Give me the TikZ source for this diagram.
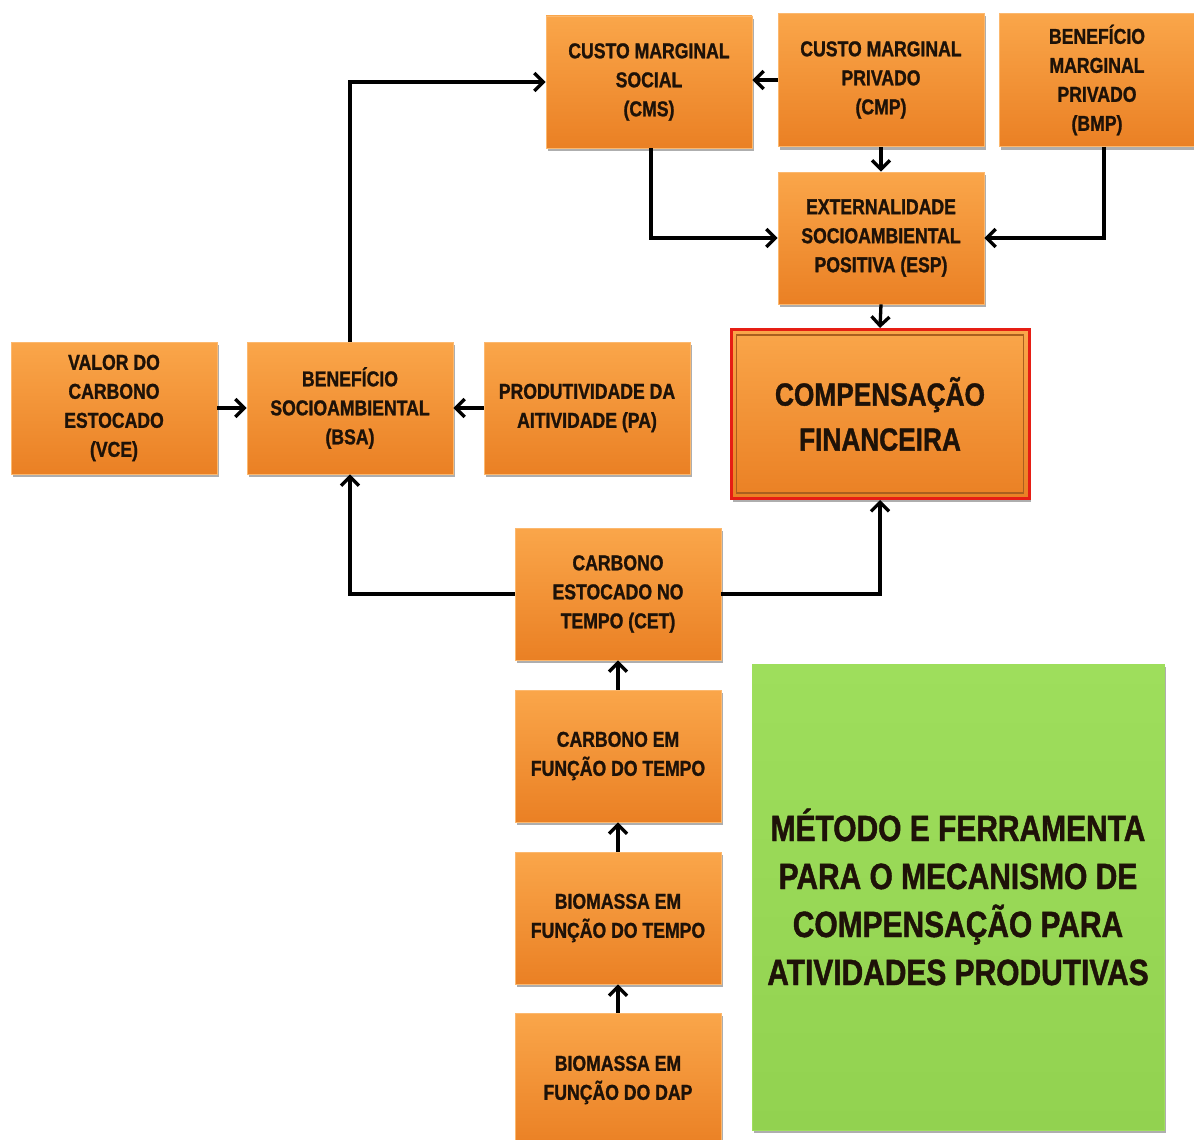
\documentclass[tikz,border=0pt]{standalone}
\usepackage{fontspec}
\setmainfont{Liberation Sans}[FakeStretch=0.82, BoldFeatures={FakeBold=1.2}]
\usetikzlibrary{arrows.meta,shadows,calc}
\definecolor{orgT}{RGB}{250,166,74}
\definecolor{orgB}{RGB}{234,128,36}
\definecolor{orgE}{RGB}{252,184,110}
\definecolor{grnT}{RGB}{158,222,92}
\definecolor{grnB}{RGB}{146,210,80}
\definecolor{txt}{RGB}{30,18,8}
\definecolor{redline}{RGB}{230,30,20}
\definecolor{brownline}{RGB}{170,95,30}
\begin{document}
\begin{tikzpicture}[x=1pt,y=-1pt,
  obox/.style={draw=orgE, line width=0.8pt, top color=orgT, bottom color=orgB,
    minimum width=206pt, minimum height=132pt, align=center, inner sep=0pt,
    font=\bfseries\fontsize{21.5}{29}\selectfont, text=txt,
    drop shadow={shadow xshift=2pt, shadow yshift=-3pt, opacity=.45, fill=black!70}},
  arr/.style={line width=3.3pt, -{Straight Barb[length=9pt,width=18pt,line width=3.3pt]}}]
\useasboundingbox (0,0) rectangle (1194,1140);
\fill[white] (0,0) rectangle (1194,1140);

\node[obox] (cms) at (649,82) {CUSTO MARGINAL\\SOCIAL\\(CMS)};
\node[obox, minimum height=133pt] (cmp) at (881,80) {CUSTO MARGINAL\\PRIVADO\\(CMP)};
\node[obox, minimum width=196pt, minimum height=133pt] (bmp) at (1097,80) {BENEFÍCIO\\MARGINAL\\PRIVADO\\(BMP)};
\node[obox] (esp) at (881,238) {EXTERNALIDADE\\SOCIOAMBIENTAL\\POSITIVA (ESP)};
\node[obox] (vce) at (114,408) {VALOR DO\\CARBONO\\ESTOCADO\\(VCE)};
\node[obox] (bsa) at (350,408) {BENEFÍCIO\\SOCIOAMBIENTAL\\(BSA)};
\node[obox] (pa) at (587,408) {PRODUTIVIDADE DA\\AITIVIDADE (PA)};
\node[obox, draw=redline, line width=3pt, minimum width=298pt, minimum height=169pt,
  font=\bfseries\fontsize{32}{45}\selectfont] (cf) at (880,414) {COMPENSAÇÃO\\FINANCEIRA};
\draw[brownline, line width=1.5pt] ($(cf.north west)+(7,7)$) rectangle ($(cf.south east)+(-7,-7)$);
\node[obox] (cet) at (618,594) {CARBONO\\ESTOCADO NO\\TEMPO (CET)};
\node[obox] (cft) at (618,756) {CARBONO EM\\FUNÇÃO DO TEMPO};
\node[obox] (bft) at (618,918) {BIOMASSA EM\\FUNÇÃO DO TEMPO};
\node[obox, minimum height=134pt] (bfd) at (618,1080) {BIOMASSA EM\\FUNÇÃO DO DAP};
\node[obox, draw=grnT, top color=grnT, bottom color=grnB, minimum width=412pt, minimum height=466pt,
  font=\bfseries\fontsize{36.5}{48}\selectfont] (met) at (958,897)
  {MÉTODO E FERRAMENTA\\PARA O MECANISMO DE\\COMPENSAÇÃO PARA\\ATIVIDADES PRODUTIVAS};

\draw[arr] (bsa.north) |- (cms.west);
\draw[arr] (cmp.west) -- (cmp.west -| cms.east);
\draw[arr] (cmp.south) -- (esp.north);
\draw[arr] ([xshift=2pt]cms.south) |- (esp.west);
\draw[arr] ([xshift=7pt]bmp.south) |- (esp.east);
\draw[arr] (esp.south) -- (cf.north);
\draw[arr] (vce.east) -- (bsa.west);
\draw[arr] (pa.west) -- (bsa.east);
\draw[arr] (cet.west) -| (bsa.south);
\draw[arr] (cet.east) -| (cf.south);
\draw[arr] (cft.north) -- (cet.south);
\draw[arr] (bft.north) -- (cft.south);
\draw[arr] (bfd.north) -- (bft.south);
\end{tikzpicture}
\end{document}
